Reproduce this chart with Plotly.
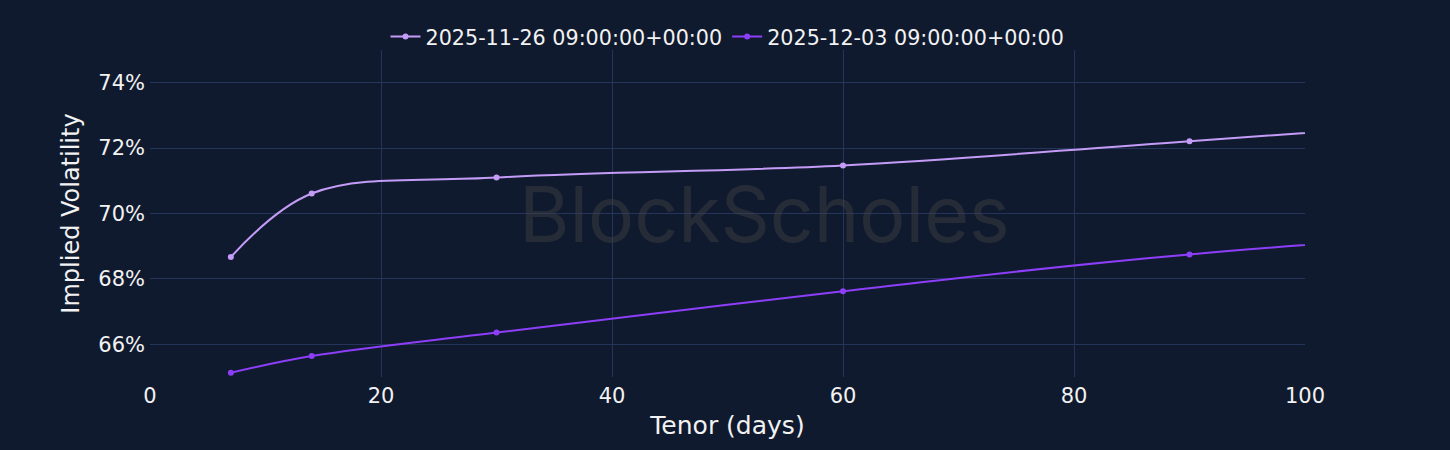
import plotly.graph_objects as go

tenor = [7, 14, 30, 60, 90, 180]
iv_1126 = [68.67, 70.61, 71.10, 71.47, 72.21, 74.5]
iv_1203 = [65.13, 65.64, 66.36, 67.62, 68.75, 70.9]
names = ["2025-11-26 09:00:00+00:00", "2025-12-03 09:00:00+00:00"]
colors = ["#c49cf8", "#8d3ef9"]

bg = "#101a2e"
grid = "#25345a"
txt = "#f2f2f2"

fig = go.Figure()
for ys, nm, c in zip([iv_1126, iv_1203], names, colors):
    fig.add_trace(go.Scatter(
        x=tenor, y=[v / 100 for v in ys], name=nm, mode="lines+markers",
        line=dict(color=c, width=2, shape="spline"),
        marker=dict(color=c, size=6),
    ))

fig.add_annotation(
    text="BlockScholes", x=0.532, y=0.5, xref="paper", yref="paper",
    showarrow=False, font=dict(family="Inter, DejaVu Sans", size=77, color="rgba(70,70,70,0.42)"),
)

fig.update_layout(
    width=1450, height=450,
    paper_bgcolor=bg, plot_bgcolor=bg,
    margin=dict(l=150, r=145, t=50, b=73),
    font=dict(family="DejaVu Sans, Verdana", size=21, color=txt),
    legend=dict(orientation="h", x=0.5, xanchor="center", y=0.98, yanchor="bottom",
                font=dict(size=20.7, color=txt), bgcolor="rgba(0,0,0,0)"),
    xaxis=dict(title=dict(text="Tenor (days)", font=dict(size=25), standoff=9),
               range=[0, 100], dtick=20, showgrid=True, gridcolor=grid,
               zeroline=False, showline=False, ticks="", ticklabelstandoff=4),
    yaxis=dict(title=dict(text="Implied Volatility", font=dict(size=24), standoff=11),
               range=[0.65, 0.75], tickvals=[0.66, 0.68, 0.70, 0.72, 0.74],
               tickformat=".0%", showgrid=True, gridcolor=grid,
               zeroline=False, showline=False, ticks="", ticklabelstandoff=4),
)

fig.write_html("out.html", config={"displayModeBar": False},
               post_script="document.body.style.margin='0';document.body.style.background='%s';" % bg)
